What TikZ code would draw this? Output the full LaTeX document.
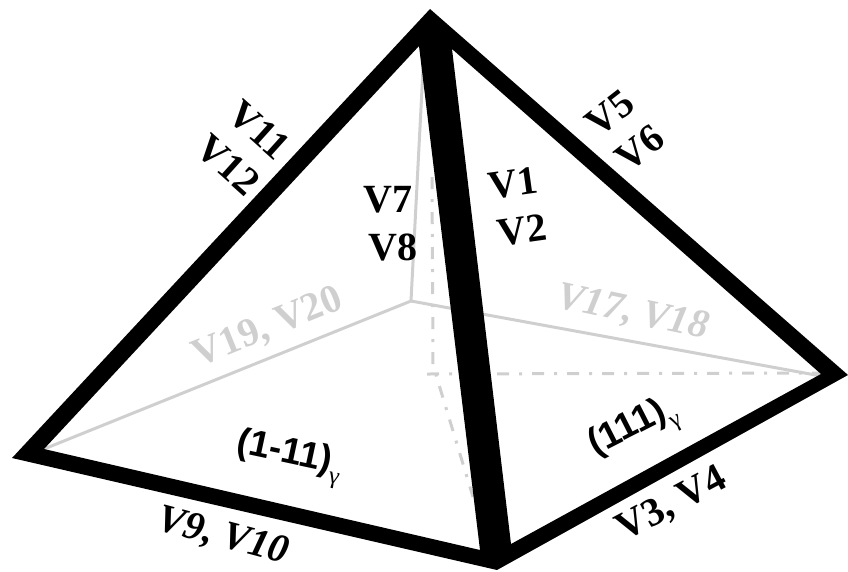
\documentclass[tikz,border=0pt]{standalone}
\usepackage{fontspec}
\setmainfont{Liberation Serif}
\setsansfont{Liberation Sans}
\newcommand{\gammasub}{\raisebox{-0.3em}{\rmfamily\mdseries\fontsize{24}{24}\selectfont γ}}
\tikzset{
  edgelabel/.style={font=\fontsize{40}{40}\selectfont\bfseries,inner sep=0pt},
  slantlabel/.style={font=\fontsize{40}{40}\selectfont\bfseries\itshape,inner sep=0pt},
  backlabel/.style={text=backgray},
  planelabel/.style={font=\fontsize{37}{37}\selectfont\sffamily\bfseries,inner sep=0pt},
  backline/.style={draw=backgray,line width=3pt},
  hiddenline/.style={draw=backgray,line width=3pt,dash pattern=on 12pt off 10pt on 3pt off 10pt}
}
\definecolor{backgray}{HTML}{CFCFCF}
\begin{document}
\begin{tikzpicture}[x=1pt,y=-1pt]
\useasboundingbox (0,0) rectangle (848,571);

% back edges
\coordinate (back) at (411,301);
\draw[backline] (424,50) -- (back) -- (44,449);
\draw[backline] (back) -- (821,376);
\draw[hiddenline] (432,177) -- (433,365) -- (473,497);
\draw[hiddenline] (427,374) -- (820,373);

% front edges
\fill[black,even odd rule]
  (430,9) -- (848,375) -- (497,570) -- (12,458) -- cycle
  (419,46) -- (44,449) -- (480,550) -- cycle
  (452,49) -- (511,544) -- (821,374) -- cycle;

% labels left
\node[edgelabel,rotate=-42] (v11) at (259,130) {V11};
\node[edgelabel,rotate=-42] (v12) at (228,165) {V12};
\node[edgelabel] (v7) at (388,200) {V7};
\node[edgelabel] (v8) at (393,247) {V8};
\node[edgelabel,backlabel,rotate=22] (v19) at (268,328) {V19, V20};
\node[slantlabel,rotate=-15] (v9) at (223,537) {V9, V10};
\node[planelabel,rotate=-12] (leftplane) at (289,458) {(1-11)\gammasub};

% labels right
\node[edgelabel,rotate=38] (v5) at (610,113) {V5};
\node[edgelabel,rotate=38] (v6) at (640,148) {V6};
\node[edgelabel,rotate=8] (v1) at (513,183) {V1};
\node[edgelabel,rotate=8] (v2) at (522,230) {V2};
\node[slantlabel,backlabel,rotate=-12] (v17) at (633,313) {V17, V18};
\node[edgelabel,rotate=28] (v3) at (672,505) {V3, V4};
\node[planelabel,rotate=27] (rightplane) at (634,430) {(111)\gammasub};
\end{tikzpicture}
\end{document}
